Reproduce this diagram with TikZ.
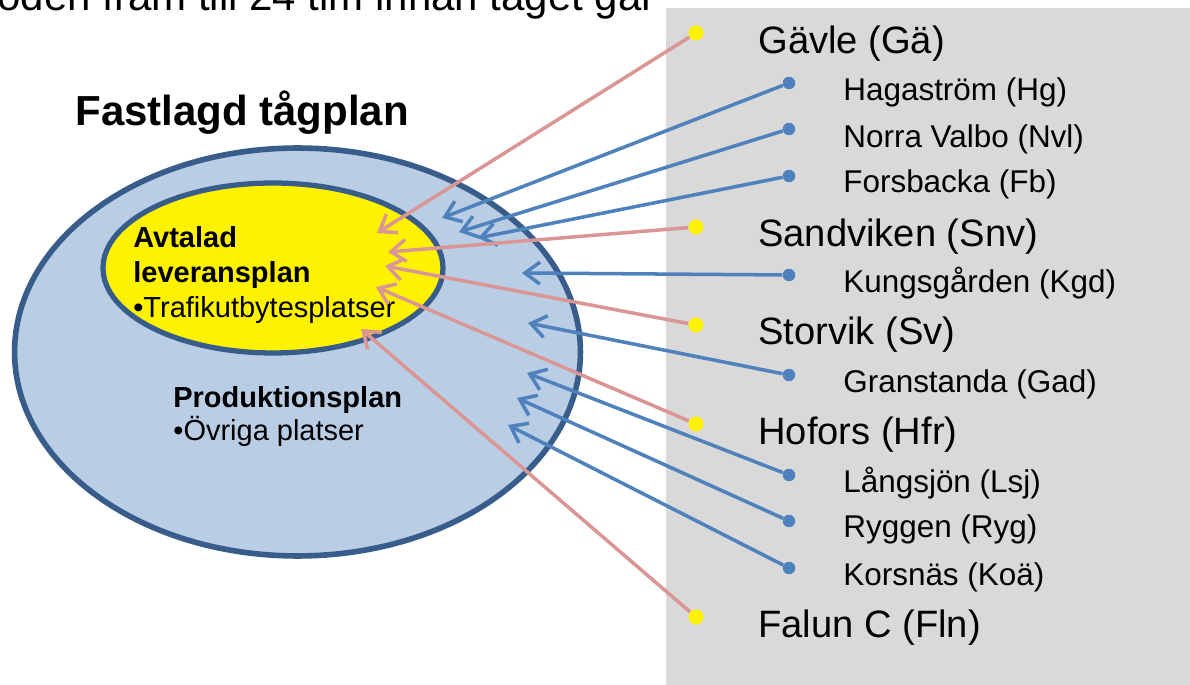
\documentclass[tikz,border=0pt]{standalone}
\usepackage{fontspec}
\setmainfont{Liberation Sans}
\usetikzlibrary{arrows.meta,shapes.geometric}
\tikzset{>={Straight Barb[width=4.4mm,length=3mm]}}
\definecolor{Color1}{RGB}{217,150,148}
\definecolor{Color2}{RGB}{79,129,189}
\definecolor{Color3}{RGB}{185,205,229}
\definecolor{Color4}{RGB}{56,93,138}
\definecolor{Color5}{RGB}{217,217,217}

\begin{document}
\begin{tikzpicture}[x=0.02cm,y=-0.02cm,
		mainlabel/.style={anchor=base west,inner sep=0pt,font=\fontsize{21.7}{26}\selectfont},
		sublabel/.style={anchor=base west,inner sep=0pt,font=\fontsize{17.9}{21}\selectfont},
		bigdot/.style={circle,fill=yellow,inner sep=0pt,minimum size=0.3cm},
		smalldot/.style={circle,fill=Color2,inner sep=0pt,minimum size=0.25cm},
		pinkarrow/.style={->,Color1,line width=2pt},
		bluearrow/.style={->,Color2,line width=2pt}]

		\useasboundingbox (0,0) rectangle (1190,685);
		\clip (0,0) rectangle (1190,685);

		% grey panel
		\fill[Color5] (666,8) rectangle (1190,685);

		% top line, cut by the page
		\node[anchor=base east,inner sep=0pt,font=\fontsize{23.9}{28}\selectfont] (toptext) at (656,11) {oden fram till 24 tim innan tåget går};

		% title
		\node[anchor=base west,inner sep=0pt,font=\fontsize{23.9}{28}\selectfont\bfseries] (title) at (75,126) {Fastlagd tågplan};

		% ellipses
		\node[ellipse,draw=Color4,fill=Color3,line width=3.2pt,inner sep=0pt,minimum width=11.32cm,minimum height=8.16cm] (prodplan) at (297.5,352) {};
		\node[ellipse,draw=Color4,fill=yellow,line width=3pt,inner sep=0pt,minimum width=6.8cm,minimum height=3.4cm] (levplan) at (273,268) {};

		% ellipse texts
		\node[anchor=base west,align=left,inner sep=0pt,font=\fontsize{16.5}{20}\selectfont] (levtext) at (133,318) {\textbf{Avtalad}\\\textbf{leveransplan}\\•Trafikutbytesplatser};
		\node[anchor=base west,align=left,inner sep=0pt,font=\fontsize{16.5}{19.3}\selectfont] (prodtext) at (173,441) {\textbf{Produktionsplan}\\•Övriga platser};

		% stations
		\node[mainlabel] (lGa) at (758,54) {Gävle (Gä)};
		\node[sublabel] (lHg) at (843,101) {Hagaström (Hg)};
		\node[sublabel] (lNvl) at (843,148) {Norra Valbo (Nvl)};
		\node[sublabel] (lFb) at (843,193) {Forsbacka (Fb)};
		\node[mainlabel] (lSnv) at (758,247) {Sandviken (Snv)};
		\node[sublabel] (lKgd) at (843,293) {Kungsgården (Kgd)};
		\node[mainlabel] (lSv) at (758,345) {Storvik (Sv)};
		\node[sublabel] (lGad) at (843,393) {Granstanda (Gad)};
		\node[mainlabel] (lHfr) at (758,445) {Hofors (Hfr)};
		\node[sublabel] (lLsj) at (843,493) {Långsjön (Lsj)};
		\node[sublabel] (lRyg) at (843,538) {Ryggen (Ryg)};
		\node[sublabel] (lKoa) at (843,585) {Korsnäs (Koä)};
		\node[mainlabel] (lFln) at (758,637) {Falun C (Fln)};

		% dots
		\node[bigdot] (dGa) at (696,33) {};
		\node[bigdot] (dSnv) at (696,227) {};
		\node[bigdot] (dSv) at (696,325) {};
		\node[bigdot] (dHfr) at (696,424) {};
		\node[bigdot] (dFln) at (696,617) {};
		\node[smalldot] (dHg) at (789,83) {};
		\node[smalldot] (dNvl) at (789,129) {};
		\node[smalldot] (dFb) at (789,176) {};
		\node[smalldot] (dKgd) at (789,275) {};
		\node[smalldot] (dGad) at (789,375) {};
		\node[smalldot] (dLsj) at (789,475) {};
		\node[smalldot] (dRyg) at (789,521) {};
		\node[smalldot] (dKoa) at (789,568) {};

		% arrow tips
		\coordinate (tGa) at (377,233);
		\coordinate (tSnv) at (388,252);
		\coordinate (tSv) at (385,266);
		\coordinate (tHfr) at (376,287);
		\coordinate (tFln) at (361,329);
		\coordinate (tHg) at (442,218);
		\coordinate (tNvl) at (459,232);
		\coordinate (tFb) at (478,238);
		\coordinate (tKgd) at (522,273);
		\coordinate (tGad) at (528,323);
		\coordinate (tLsj) at (527,373);
		\coordinate (tRyg) at (517,398);
		\coordinate (tKoa) at (508,425);

		% blue arrows into the production plan
		\draw[bluearrow] (dHg) -- (tHg);
		\draw[bluearrow] (dNvl) -- (tNvl);
		\draw[bluearrow] (dFb) -- (tFb);
		\draw[bluearrow] (dKgd) -- (tKgd);
		\draw[bluearrow] (dGad) -- (tGad);
		\draw[bluearrow] (dLsj) -- (tLsj);
		\draw[bluearrow] (dRyg) -- (tRyg);
		\draw[bluearrow] (dKoa) -- (tKoa);

		% pink arrows into the delivery plan
		\draw[pinkarrow] (dGa) -- (tGa);
		\draw[pinkarrow] (dSnv) -- (tSnv);
		\draw[pinkarrow] (dSv) -- (tSv);
		\draw[pinkarrow] (dHfr) -- (tHfr);
		\draw[pinkarrow] (dFln) -- (tFln);

	\end{tikzpicture}
\end{document}
